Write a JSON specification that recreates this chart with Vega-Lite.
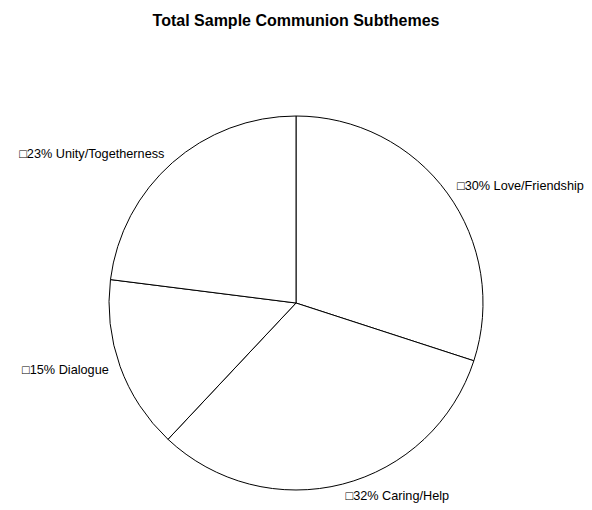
{
  "$schema": "https://vega.github.io/schema/vega-lite/v6.json",
  "width": 592,
  "height": 510,
  "autosize": {"type": "fit", "contains": "padding"},
  "padding": {"top": 13, "left": 0, "right": 0, "bottom": 0},
  "background": "white",
  "title": {
    "text": "Total Sample Communion Subthemes",
    "font": "Liberation Sans",
    "fontSize": 16,
    "fontWeight": "bold",
    "color": "black",
    "anchor": "middle",
    "offset": 67
  },
  "data": {
    "values": [
      {"idx": 1, "category": "Love/Friendship", "value": 30},
      {"idx": 2, "category": "Caring/Help", "value": 32},
      {"idx": 3, "category": "Dialogue", "value": 15},
      {"idx": 4, "category": "Unity/Togetherness", "value": 23}
    ]
  },
  "transform": [
    {"calculate": "'□' + datum.value + '% ' + datum.category", "as": "label"}
  ],
  "encoding": {
    "theta": {"field": "value", "type": "quantitative", "stack": true, "scale": {"type": "linear"}},
    "order": {"field": "idx", "type": "quantitative"}
  },
  "layer": [
    {
      "mark": {"type": "arc", "outerRadius": 187, "fill": "white", "stroke": "black", "strokeWidth": 1}
    },
    {
      "mark": {
        "type": "text",
        "radius": 199,
        "font": "Liberation Sans",
        "fontSize": 12.7,
        "color": "black",
        "align": {"expr": "(datum.value_start + datum.value_end) / 2 > 50 ? 'right' : 'left'"}
      },
      "encoding": {
        "text": {"field": "label", "type": "nominal"}
      }
    }
  ],
  "config": {"view": {"stroke": null}}
}
